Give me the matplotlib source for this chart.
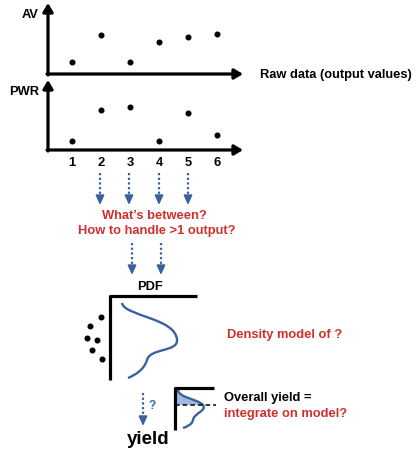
import numpy as np
import matplotlib.pyplot as plt
from matplotlib.path import Path
from matplotlib.patches import PathPatch

# ---- data ----
runs = [1, 2, 3, 4, 5, 6]
av_values = [12, 39, 12, 32, 37, 40]
pwr_values = [9, 40, 43, 9, 37, 15]

# samples collapsed next to the PDF box (pixel coords of the sketch)
sample_x = [101, 90, 87, 97, 92, 102]
sample_y = [317, 326, 338, 340, 350, 359]

# bezier control points of the density curves (pixel coords)
pdf_curve = [(122, 303), (124, 316), (176, 318), (177, 340),
             (178, 352), (150, 348), (147, 360),
             (144, 370), (135, 375), (128, 378)]
small_curve = [(178, 390), (179, 398), (198, 399), (203, 405),
               (207, 411), (194, 413), (193, 420),
               (192, 425), (186, 427), (183, 428)]

W, H = 416, 449
RED = '#d12f2b'
BLUE = '#3a62a0'
FONT = 'Liberation Sans'
FS = 9.3

fig = plt.figure(figsize=(W / 100, H / 100), dpi=100)
plt.rcParams['font.family'] = [FONT, 'DejaVu Sans']


def box(x0, y0, x1, y1):
    return [x0 / W, 1 - y1 / H, (x1 - x0) / W, (y1 - y0) / H]


# overlay in pixel coordinates
ax = fig.add_axes([0, 0, 1, 1])
ax.set_xlim(0, W)
ax.set_ylim(H, 0)
ax.axis('off')

AXIS_ARROW = dict(arrowstyle='-|>,head_length=0.5,head_width=0.3', lw=2.3,
                  color='black', mutation_scale=10, shrinkA=0, shrinkB=0)

# ---- the two raw data panels ----
for vals, (y0, y1), name in [(av_values, (5, 74), 'AV'), (pwr_values, (82, 150), 'PWR')]:
    a = fig.add_axes(box(48, y0, 240, y1))
    a.scatter(runs, vals, s=11, color='black', zorder=3)
    a.set_xlim(0.17, 6.79)
    a.set_ylim(0, y1 - y0)
    for s in a.spines.values():
        s.set_visible(False)
    a.set_yticks([])
    a.patch.set_alpha(0)
    if name == 'PWR':
        a.set_xticks(runs)
        a.set_xticklabels([str(r) for r in runs], fontsize=FS, fontweight='bold')
        a.tick_params(axis='x', length=0, pad=5)
    else:
        a.set_xticks([])
    # axis arrows
    ax.annotate('', xy=(48, y0 - 2), xytext=(48, y1 + 1), arrowprops=AXIS_ARROW)
    ax.annotate('', xy=(243, y1), xytext=(47, y1), arrowprops=AXIS_ARROW)
    ax.text(39, y0 + 10, name, ha='right', va='center', fontsize=FS, fontweight='bold')

ax.text(260, 75, 'Raw data (output values)', ha='left', va='center',
        fontsize=FS, fontweight='bold')

DOT_ARROW = dict(arrowstyle='-|>,head_length=0.55,head_width=0.25', lw=1.3,
                 color=BLUE, mutation_scale=10, shrinkA=0, shrinkB=0)


def dotted_arrow(x, y0, y1):
    ax.plot([x, x], [y0, y1 - 5], ls=(0, (1, 1.1)), lw=1.6, color=BLUE)
    ax.annotate('', xy=(x, y1), xytext=(x, y1 - 7), arrowprops=DOT_ARROW)


for xp in [100, 129, 159, 188]:
    dotted_arrow(xp, 173, 205)

ax.text(154, 216, 'What\u2019s between?', ha='center', va='center',
        fontsize=FS, fontweight='bold', color=RED)
ax.text(157, 231, 'How to handle >1 output?', ha='center', va='center',
        fontsize=FS, fontweight='bold', color=RED)

for xp in [132, 161]:
    dotted_arrow(xp, 243, 275)

# ---- PDF panel ----
ax.text(150, 287, 'PDF', ha='center', va='center', fontsize=FS, fontweight='bold')
ax.plot([110, 110, 197], [380, 296, 296], color='black', lw=2.3, solid_capstyle='butt')

codes = [Path.MOVETO] + [Path.CURVE4] * 9
ax.add_patch(PathPatch(Path(pdf_curve, codes), fill=False, edgecolor=BLUE, lw=1.7))
ax.scatter(sample_x, sample_y, s=11, color='black')

ax.text(227, 335, 'Density model of ?', ha='left', va='center',
        fontsize=FS, fontweight='bold', color=RED)

# ---- yield ----
ax.plot([143, 143], [393, 420], ls=(0, (1, 1.1)), lw=1.6, color=BLUE)
ax.annotate('', xy=(143, 426), xytext=(143, 419), arrowprops=DOT_ARROW)
ax.text(152, 406, '?', ha='center', va='center', fontsize=8.5,
        fontweight='bold', color=BLUE)
ax.text(148, 439, 'yield', ha='center', va='center', fontsize=13.5, fontweight='bold')

# small PDF with shaded tail
fill_pts = [(175, 390), (178, 390)] + small_curve[1:4] + [(175, 405), (175, 390)]
fill_codes = [Path.MOVETO, Path.LINETO] + [Path.CURVE4] * 3 + [Path.LINETO, Path.CLOSEPOLY]
ax.add_patch(PathPatch(Path(fill_pts, fill_codes), facecolor='#a3b6df',
                       edgecolor='none'))
ax.add_patch(PathPatch(Path(small_curve, codes), fill=False, edgecolor=BLUE, lw=1.7))
ax.plot([175, 175, 214], [430, 388, 388], color='black', lw=2.3, solid_capstyle='butt')
ax.plot([175, 216], [405, 405], color='black', lw=1.1, ls=(0, (3, 2)))

ax.text(224, 398, 'Overall yield =', ha='left', va='center', fontsize=FS, fontweight='bold')
ax.text(224, 414, 'integrate on model?', ha='left', va='center',
        fontsize=FS, fontweight='bold', color=RED)

fig.savefig('out.png', dpi=100)
